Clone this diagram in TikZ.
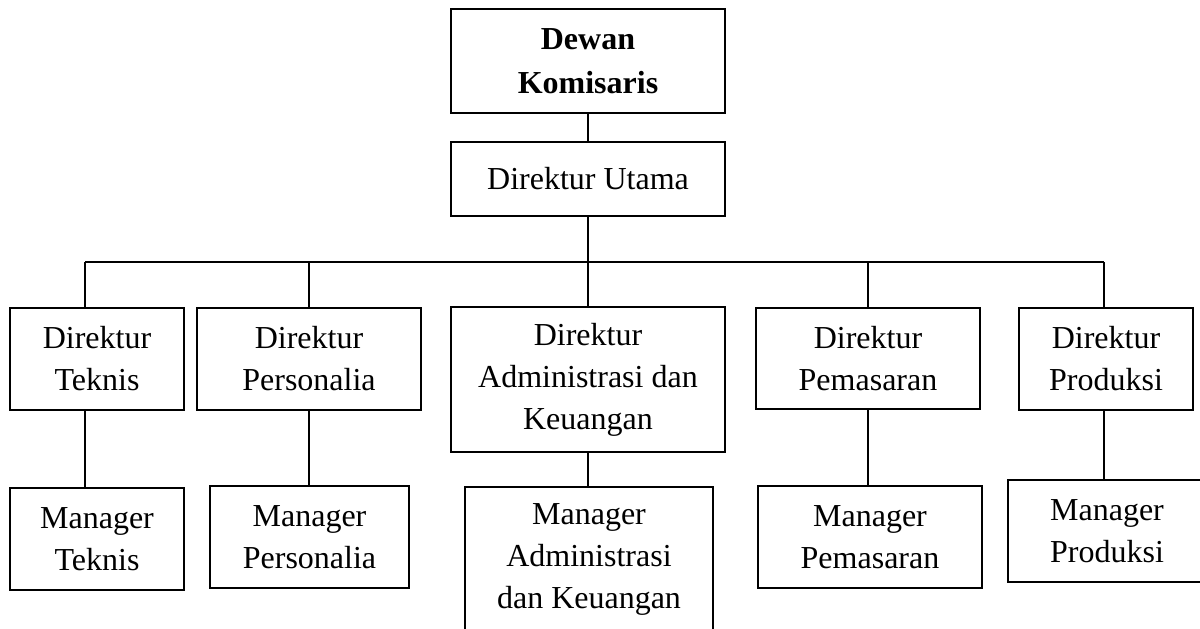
\documentclass[tikz,border=0pt]{standalone}
\usepackage{fontspec}
\setmainfont{Liberation Serif}
\usepackage{tikz}
\usetikzlibrary{positioning,calc}
\tikzset{
  unit/.style={draw=black,line width=1.6pt,inner sep=0pt,align=center,
    font=\fontsize{32}{42}\selectfont},
  link/.style={line width=1.6pt,black},
}

\begin{document}
\begin{tikzpicture}[x=1pt,y=-1pt]
  \useasboundingbox (0,0) rectangle (1200,629);
  % top of the chart
  \node[unit,minimum width=274pt,minimum height=104pt,
    font=\fontsize{32}{44}\selectfont\bfseries] (dewan) at (588,61) {Dewan\\Komisaris};
  \node[unit,minimum width=274pt,minimum height=74pt] (utama) at (588,179) {Direktur Utama};
  % directors
  \node[unit,minimum width=174pt,minimum height=102pt] (dirTek) at (97,359) {Direktur\\Teknis};
  \node[unit,minimum width=224pt,minimum height=102pt] (dirPer) at (309,359) {Direktur\\Personalia};
  \node[unit,minimum width=274pt,minimum height=145pt] (dirAdm) at (588,379.5) {Direktur\\Administrasi dan\\Keuangan};
  \node[unit,minimum width=224pt,minimum height=101pt] (dirPem) at (868,358.5) {Direktur\\Pemasaran};
  \node[unit,minimum width=174pt,minimum height=102pt] (dirPro) at (1106,359) {Direktur\\Produksi};
  % managers
  \node[unit,minimum width=174pt,minimum height=102pt] (manTek) at (97,539) {Manager\\Teknis};
  \node[unit,minimum width=199pt,minimum height=102pt] (manPer) at (309.5,537) {Manager\\Personalia};
  \node[unit,minimum width=248pt,minimum height=145pt] (manAdm) at (589,559.5) {Manager\\Administrasi\\dan Keuangan};
  \node[unit,minimum width=224pt,minimum height=102pt] (manPem) at (870,537) {Manager\\Pemasaran};
  \node[unit,minimum width=198pt,minimum height=102pt] (manPro) at (1107,531) {Manager\\Produksi};
  % bus line
  \coordinate (busL) at (85,262);
  \coordinate (busR) at (1104,262);
  \draw[link] (busL) -- (busR);
  \draw[link] (dewan) -- (utama);
  \draw[link] (utama.south) -- (utama.south |- busL);
  \draw[link] (busL) -- (busL |- dirTek.north);
  \draw[link] (busR) -- (busR |- dirPro.north);
  \foreach \d in {dirPer,dirAdm,dirPem}
    \draw[link] (\d.north) -- (\d.north |- busL);
  % director to manager
  \draw[link] (dirTek.south -| busL) -- (manTek.north -| busL);
  \draw[link] (dirPro.south -| busR) -- (manPro.north -| busR);
  \foreach \d/\m in {dirPer/manPer,dirAdm/manAdm,dirPem/manPem}
    \draw[link] (\d.south) -- (\d.south |- \m.north);
\end{tikzpicture}
\end{document}
